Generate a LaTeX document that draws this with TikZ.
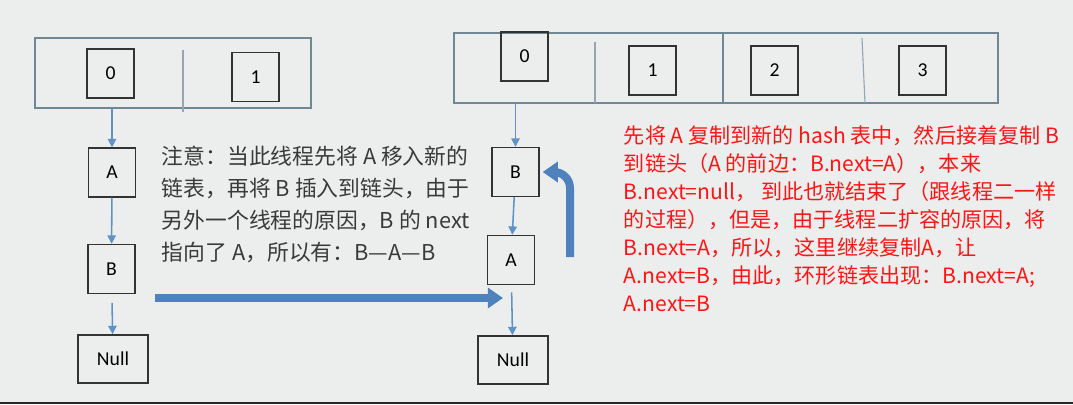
\documentclass[tikz,border=0pt]{standalone}
\usepackage{fontspec}
\setmainfont{Carlito}
\newfontfamily\cjk{Noto Sans CJK SC}
\usetikzlibrary{arrows.meta,positioning,calc}
\definecolor{bggray}{RGB}{236,238,238}
\definecolor{tabline}{RGB}{112,136,150}
\definecolor{linkblue}{RGB}{96,146,200}
\definecolor{fatblue}{RGB}{79,129,189}
\definecolor{notegray}{RGB}{58,58,58}
\definecolor{notered}{RGB}{255,20,20}

\begin{document}
\begin{tikzpicture}[x=0.025cm,y=-0.025cm,
    cell/.style={draw=black!80,line width=1.1pt,inner sep=0pt,minimum width=1.18cm,minimum height=1.22cm,font=\fontsize{14}{16}\selectfont},
    nullcell/.style={cell,minimum width=1.75cm,minimum height=1.2cm},
    table/.style={draw=tabline,line width=1.6pt,inner sep=0pt,minimum height=1.75cm},
    divider/.style={draw=tabline!75,line width=0.8pt},
    link/.style={-{Triangle[length=6pt,width=6pt]},draw=linkblue,line width=1.1pt},
    fatarrow/.style={-{Triangle[length=0.38cm,width=0.5cm]},draw=fatblue,line width=0.2cm}]
    % background
    \fill[bggray] (0,0) rectangle (1073,404);
    \fill[black!85] (0,402) rectangle (1073,404);
    
    % old table
    \node[table,minimum width=6.9cm] (oldtab) at (173,73) {};
    \draw[divider] (183,50) -- (183,112);
    \node[cell] (old0) at (110.5,73.5) {0};
    \node[cell] (old1) at (255.5,77) {1};
    
    \node[cell] (olda) at (112,172.5) {A};
    \node[cell] (oldb) at (111.5,269) {B};
    \node[nullcell] (oldnull) at (113,359) {Null};
    
    % new table
    \node[table,minimum width=13.6cm] (newtab) at (726,68) {};
    \draw[divider] (595,42) -- (595,103);
    \draw[divider,draw=tabline] (723,33) -- (723,103);
    \draw[divider] (862,38) -- (865,103);
    \node[cell] (new0) at (524.5,56.5) {0};
    \node[cell] (new1) at (652.5,70.5) {1};
    \node[cell] (new2) at (774.5,70.5) {2};
    \node[cell] (new3) at (922.5,70.5) {3};
    
    \node[cell] (newb) at (515.5,172) {B};
    \node[cell] (newa) at (511,260) {A};
    \node[nullcell] (newnull) at (513,360) {Null};
    
    % links
    \draw[link] (oldtab.south -| olda) -- (olda);
    \draw[link] (olda) -- (oldb);
    \draw[link,shorten <=0.22cm] (oldb) -- (oldnull);
    \draw[link] (newtab.south -| newb) -- (newb);
    \draw[link] (newb) -- (newa);
    \draw[link,shorten <=0.18cm] (newa) -- (newnull);
    
    % big arrows
    \coordinate (movestart) at (155,298);
    \coordinate (moveend) at (503,298);
    \coordinate (loopstart) at (570,257);
    \draw[fatarrow] (movestart) -- (moveend);
    \draw[fatarrow,rounded corners=0.4cm] (loopstart) |- ([xshift=0.07cm]newb.east);
    
    % texts
    \node[anchor=west,align=left,text=notegray,font=\cjk\fontsize{15.5}{22.8}\selectfont] (note) at (157,204)
    {注意：当此线程先将 A 移入新的\\链表，再将 B 插入到链头，由于\\另外一个线程的原因，B 的 next\\指向了 A，所以有：B—A—B};
    \node[anchor=west,align=left,text=notered,font=\cjk\fontsize{15}{19.9}\selectfont] (story) at (619,219)
    {先将 A 复制到新的 hash 表中，然后接着复制 B\\到链头（A 的前边：B.next=A），本来\\B.next=null， 到此也就结束了（跟线程二一样\\的过程），但是，由于线程二扩容的原因，将\\B.next=A，所以，这里继续复制A，让\\A.next=B，由此，环形链表出现：B.next=A;\\A.next=B};
\end{tikzpicture}
\end{document}
